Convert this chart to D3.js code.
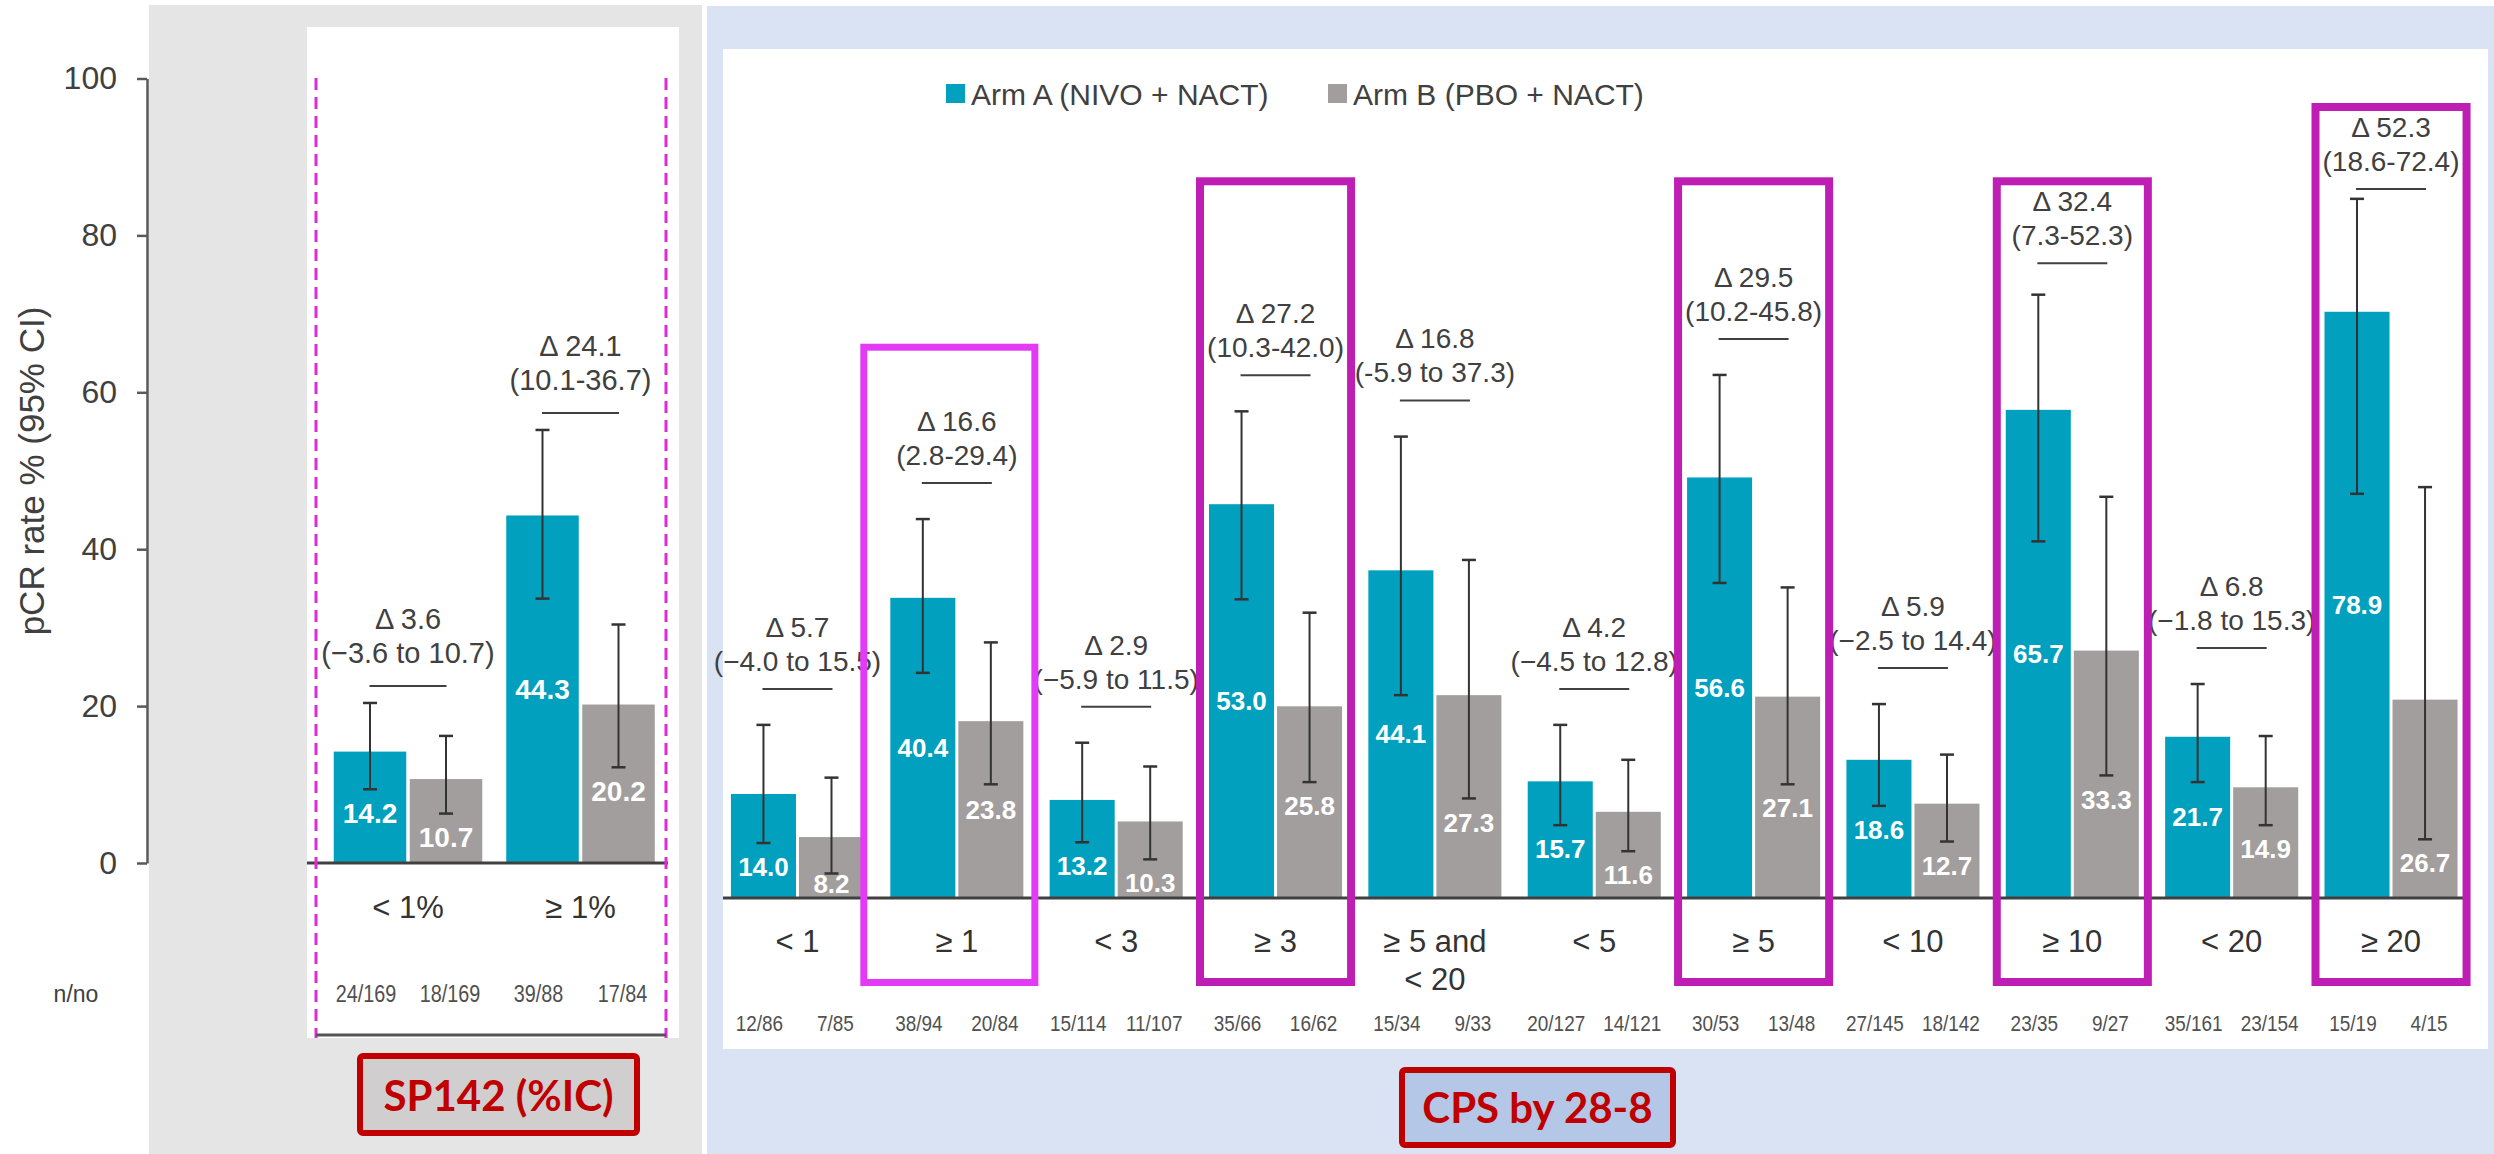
<!DOCTYPE html>
<html>
<head>
<meta charset="utf-8">
<script src="https://cdn.jsdelivr.net/npm/d3@7"></script>
<style>
  body { margin: 0; background: #fff; }
  svg { display: block; }
</style>
</head>
<body>
<svg id="chart" width="2494" height="1154"></svg>
<script>
// ---------- data: SP142 (%IC) subgroups ----------
const sp142Cats   = ["< 1%", "≥ 1%"];
const sp142ArmA   = [14.2, 44.3];
const sp142ArmB   = [10.7, 20.2];
const sp142ArmALo = [9.4, 33.7];
const sp142ArmAHi = [20.4, 55.2];
const sp142ArmBLo = [6.3, 12.2];
const sp142ArmBHi = [16.2, 30.4];
const sp142Delta   = ["Δ 3.6", "Δ 24.1"];
const sp142DeltaCI = ["(−3.6 to 10.7)", "(10.1-36.7)"];
const sp142NA = ["24/169", "39/88"];
const sp142NB = ["18/169", "17/84"];

// ---------- data: CPS by 28-8 subgroups ----------
const cpsCats   = ["< 1", "≥ 1", "< 3", "≥ 3", "≥ 5 and\n< 20", "< 5", "≥ 5", "< 10", "≥ 10", "< 20", "≥ 20"];
const cpsArmA   = [14.0, 40.4, 13.2, 53.0, 44.1, 15.7, 56.6, 18.6, 65.7, 21.7, 78.9];
const cpsArmB   = [8.2, 23.8, 10.3, 25.8, 27.3, 11.6, 27.1, 12.7, 33.3, 14.9, 26.7];
const cpsArmALo = [7.4, 30.3, 7.5, 40.2, 27.3, 9.8, 42.4, 12.4, 48.0, 15.6, 54.4];
const cpsArmAHi = [23.3, 51.0, 20.9, 65.5, 62.1, 23.3, 70.4, 26.1, 81.2, 28.8, 94.1];
const cpsArmBLo = [3.3, 15.3, 5.2, 15.6, 13.4, 6.3, 15.3, 7.6, 16.5, 9.8, 7.9];
const cpsArmBHi = [16.2, 34.4, 17.7, 38.4, 45.5, 18.6, 41.8, 19.3, 54.0, 21.8, 55.3];
const cpsDelta   = ["Δ 5.7", "Δ 16.6", "Δ 2.9", "Δ 27.2", "Δ 16.8", "Δ 4.2", "Δ 29.5", "Δ 5.9", "Δ 32.4", "Δ 6.8", "Δ 52.3"];
const cpsDeltaCI = ["(−4.0 to 15.5)", "(2.8-29.4)", "(−5.9 to 11.5)", "(10.3-42.0)", "(-5.9 to 37.3)",
                    "(−4.5 to 12.8)", "(10.2-45.8)", "(−2.5 to 14.4)", "(7.3-52.3)", "(−1.8 to 15.3)", "(18.6-72.4)"];
const cpsNA = ["12/86", "38/94", "15/114", "35/66", "15/34", "20/127", "30/53", "27/145", "23/35", "35/161", "15/19"];
const cpsNB = ["7/85", "20/84", "11/107", "16/62", "9/33", "14/121", "13/48", "18/142", "9/27", "23/154", "4/15"];

const yTicks = [0, 20, 40, 60, 80, 100];
const legendLabels = ["Arm A (NIVO + NACT)", "Arm B (PBO + NACT)"];
const axisTitle = "pCR rate % (95% CI)";

// ---------- styling ----------
const W = 2494, H = 1154;
const SANS = "'Liberation Sans', Arial, sans-serif";
const BOLD = "Lato, 'Liberation Sans', sans-serif";
const TEAL = "#00A0BE", GREY = "#A39E9E", INK = "#404040";

const svg = d3.select("#chart");

// squeeze a text element horizontally to mimic a condensed face
function condense(sel, k) {
  sel.each(function () {
    const len = this.getComputedTextLength();
    d3.select(this).attr("textLength", len * k).attr("lengthAdjust", "spacingAndGlyphs");
  });
}

// panel backgrounds
svg.append("rect").attr("width", W).attr("height", H).attr("fill", "#fff");
svg.append("rect").attr("x", 149).attr("y", 5).attr("width", 553).attr("height", H - 5).attr("fill", "#E5E5E5");
svg.append("rect").attr("x", 707).attr("y", 6).attr("width", W - 707).attr("height", H - 6).attr("fill", "#DAE3F3");
svg.append("rect").attr("x", 307).attr("y", 27).attr("width", 372).attr("height", 1011).attr("fill", "#fff");
svg.append("rect").attr("x", 723).attr("y", 49).attr("width", 1765).attr("height", 1000).attr("fill", "#fff");

// ---------- scales ----------
const yL = d3.scaleLinear().domain([0, 100]).range([863, 78.5]);
const yR = d3.scaleLinear().domain([0, 100]).range([898, 155]);

const xL = d3.scaleBand().domain(sp142Cats).range([321.75, 666.75]).paddingInner(0.139).paddingOuter(0.0695);
const subL = d3.scaleBand().domain(["A", "B"]).range([0, xL.bandwidth()]).paddingInner(0.046);

const xR = d3.scaleBand().domain(cpsCats).range([717.8, 2470.7]).paddingInner(0.165).paddingOuter(0.0825);
const subR = d3.scaleBand().domain(["A", "B"]).range([0, xR.bandwidth()]).paddingInner(0.044);

// ---------- y axis (left panel) ----------
const axisG = svg.append("g").attr("transform", "translate(147,0)")
  .call(d3.axisLeft(yL).tickValues(yTicks).tickSize(10).tickSizeOuter(0).tickPadding(20));
axisG.select(".domain").attr("stroke", "#595959").attr("stroke-width", 2.5);
axisG.selectAll(".tick line").attr("stroke", "#595959").attr("stroke-width", 2.5);
axisG.selectAll(".tick text").attr("fill", INK).style("font-family", SANS).style("font-size", "32px");

svg.append("text")
  .attr("transform", "translate(32,471) rotate(-90)")
  .attr("text-anchor", "middle").attr("dy", "0.35em")
  .attr("fill", INK).style("font-family", SANS).style("font-size", "35px")
  .text(axisTitle);

svg.append("text").attr("x", 76).attr("y", 994).attr("dy", "0.35em")
  .attr("text-anchor", "middle").attr("fill", INK)
  .style("font-family", SANS).style("font-size", "23px").text("n/no");

// ---------- grouped bar panel ----------
function drawPanel(o) {
  const { cats, x, sub, y } = o;
  const base = y(0);
  const rows = cats.map((c, i) => ({
    cat: c, i,
    bars: [
      { arm: "A", v: o.armA[i], lo: o.aLo[i], hi: o.aHi[i], n: o.nA[i] },
      { arm: "B", v: o.armB[i], lo: o.bLo[i], hi: o.bHi[i], n: o.nB[i] }
    ]
  }));
  const g = svg.append("g");
  const grp = g.selectAll("g.grp").data(rows).join("g")
    .attr("class", "grp").attr("transform", d => `translate(${x(d.cat)},0)`);

  const bar = grp.selectAll("g.bar").data(d => d.bars).join("g").attr("class", "bar");
  const cx = d => sub(d.arm) + sub.bandwidth() / 2;

  bar.append("rect")
    .attr("x", d => sub(d.arm)).attr("width", sub.bandwidth())
    .attr("y", d => y(d.v)).attr("height", d => base - y(d.v))
    .attr("fill", d => d.arm === "A" ? TEAL : GREY);

  // value label inside each bar
  bar.append("text")
    .attr("x", cx)
    .attr("y", d => Math.min(Math.max((y(d.v) + base) / 2, y(d.lo) + 24), base - 14))
    .attr("dy", "0.35em").attr("text-anchor", "middle").attr("fill", "#fff")
    .style("font-family", SANS).style("font-weight", "bold").style("font-size", o.valueSize + "px")
    .text(d => d.v.toFixed(1));

  // 95% CI whiskers
  bar.append("line").attr("x1", cx).attr("x2", cx)
    .attr("y1", d => y(d.lo)).attr("y2", d => y(d.hi))
    .attr("stroke", "#333").attr("stroke-width", 2);
  ["lo", "hi"].forEach(k => {
    bar.append("line")
      .attr("x1", d => cx(d) - 7).attr("x2", d => cx(d) + 7)
      .attr("y1", d => y(d[k])).attr("y2", d => y(d[k]))
      .attr("stroke", "#333").attr("stroke-width", 2.5);
  });

  // n/no row
  bar.append("text")
    .attr("x", d => cx(d) + (d.arm === "A" ? -o.nShift : o.nShift)).attr("y", o.nY)
    .attr("dy", "0.35em").attr("text-anchor", "middle")
    .attr("fill", "#505050").style("font-family", SANS).style("font-size", o.nSize + "px")
    .text(d => d.n)
    .call(condense, 0.86);

  // category label
  grp.append("text")
    .attr("x", x.bandwidth() / 2).attr("y", o.catY).attr("text-anchor", "middle")
    .attr("fill", "#333").style("font-family", SANS).style("font-size", o.catSize + "px")
    .selectAll("tspan").data(d => d.cat.split("\n")).join("tspan")
    .attr("x", x.bandwidth() / 2).attr("dy", (t, j) => j === 0 ? "0.35em" : o.catLineH + "px")
    .text(t => t);

  // treatment difference annotation
  const ann = grp.append("g").attr("transform", d => {
    const top = y(Math.max(o.aHi[d.i], o.bHi[d.i]));
    let ly = top - o.annGap;
    if (o.annFloor) ly = Math.max(ly, o.annFloor(d.cat));
    return `translate(${x.bandwidth() / 2},${ly})`;
  });
  ann.append("line").attr("x1", -o.annLine / 2).attr("x2", o.annLine / 2)
    .attr("stroke", INK).attr("stroke-width", 2);
  ann.append("text").attr("y", o.annT2).attr("dy", "0.35em").attr("text-anchor", "middle")
    .attr("fill", INK).style("font-family", SANS).style("font-size", o.annSize + "px")
    .text(d => o.ci[d.i]);
  ann.append("text").attr("y", o.annT1).attr("dy", "0.35em").attr("text-anchor", "middle")
    .attr("fill", INK).style("font-family", SANS).style("font-size", o.annSize + "px")
    .text(d => o.delta[d.i]);

  // baseline
  g.append("line").attr("x1", o.baseX[0]).attr("x2", o.baseX[1]).attr("y1", base).attr("y2", base)
    .attr("stroke", INK).attr("stroke-width", 3);
}

// ---------- highlight boxes for the CPS panel ----------
const highlight = [
  { cat: "≥ 1",  top: 74.6,  padL: 30, padR: 15, color: "#E33BF5", sw: 7 },
  { cat: "≥ 3",  top: 97.0,  padL: 13, padR: 13, color: "#BE1EB4", sw: 8 },
  { cat: "≥ 5",  top: 97.0,  padL: 13, padR: 13, color: "#BE1EB4", sw: 8 },
  { cat: "≥ 10", top: 97.0,  padL: 13, padR: 13, color: "#BE1EB4", sw: 8 },
  { cat: "≥ 20", top: 107.0, padL: 13, padR: 13, color: "#BE1EB4", sw: 8 }
];
const hlBottom = 986;
const hlTop = c => { const h = highlight.find(e => e.cat === c); return h ? yR(h.top) : null; };

drawPanel({
  cats: sp142Cats, x: xL, sub: subL, y: yL,
  armA: sp142ArmA, armB: sp142ArmB, aLo: sp142ArmALo, aHi: sp142ArmAHi, bLo: sp142ArmBLo, bHi: sp142ArmBHi,
  nA: sp142NA, nB: sp142NB, delta: sp142Delta, ci: sp142DeltaCI,
  valueSize: 28, nY: 994, nSize: 23, nShift: 4, catY: 907, catSize: 31, catLineH: 38,
  annGap: 17, annLine: 77, annT2: -33, annT1: -67, annSize: 29,
  baseX: [307, 668]
});

drawPanel({
  cats: cpsCats, x: xR, sub: subR, y: yR,
  armA: cpsArmA, armB: cpsArmB, aLo: cpsArmALo, aHi: cpsArmAHi, bLo: cpsArmBLo, bHi: cpsArmBHi,
  nA: cpsNA, nB: cpsNB, delta: cpsDelta, ci: cpsDeltaCI,
  valueSize: 26, nY: 1023, nSize: 22, nShift: 4, catY: 941, catSize: 31, catLineH: 38,
  annGap: 36, annLine: 70, annT2: -28, annT1: -62, annSize: 28,
  annFloor: c => { const t = hlTop(c); return t === null ? -Infinity : t + 86; },
  baseX: [723, 2465]
});

// highlight frames drawn over the annotations
svg.append("g").selectAll("rect").data(highlight).join("rect")
  .attr("x", d => xR(d.cat) - d.padL + d.sw / 2)
  .attr("width", d => xR.bandwidth() + d.padL + d.padR - d.sw)
  .attr("y", d => yR(d.top) + d.sw / 2)
  .attr("height", d => hlBottom - yR(d.top) - d.sw)
  .attr("fill", "none").attr("stroke", d => d.color).attr("stroke-width", d => d.sw);

// dashed frame around the SP142 panel
[316, 666].forEach(xp => {
  svg.append("line").attr("x1", xp).attr("x2", xp).attr("y1", 78).attr("y2", 1038)
    .attr("stroke", "#DD2BD6").attr("stroke-width", 3).attr("stroke-dasharray", "12 7");
});
svg.append("line").attr("x1", 316).attr("x2", 666).attr("y1", 1035).attr("y2", 1035)
  .attr("stroke", "#555").attr("stroke-width", 3);

// ---------- legend ----------
const legend = svg.append("g");
[[946, TEAL, legendLabels[0]], [1328, GREY, legendLabels[1]]].forEach(([lx, c, t]) => {
  legend.append("rect").attr("x", lx).attr("y", 84).attr("width", 19).attr("height", 19).attr("fill", c);
  legend.append("text").attr("x", lx + 25).attr("y", 94).attr("dy", "0.35em")
    .attr("fill", INK).style("font-family", SANS).style("font-size", "30px").text(t);
});

// ---------- assay labels ----------
function assayLabel(x, y, w, h, fill, text, baseline) {
  svg.append("rect").attr("x", x).attr("y", y).attr("width", w).attr("height", h).attr("rx", 3)
    .attr("fill", fill).attr("stroke", "#C00000").attr("stroke-width", 6);
  svg.append("text").attr("x", x + w / 2).attr("y", baseline).attr("text-anchor", "middle")
    .attr("fill", "#C00000").style("font-family", BOLD).style("font-weight", "bold").style("font-size", "42px")
    .text(text);
}
assayLabel(360, 1056, 277, 77, "#D0CECE", "SP142 (%IC)", 1111);
assayLabel(1402, 1070, 271, 75, "#B4C7E7", "CPS by 28-8", 1123);
</script>
</body>
</html>
